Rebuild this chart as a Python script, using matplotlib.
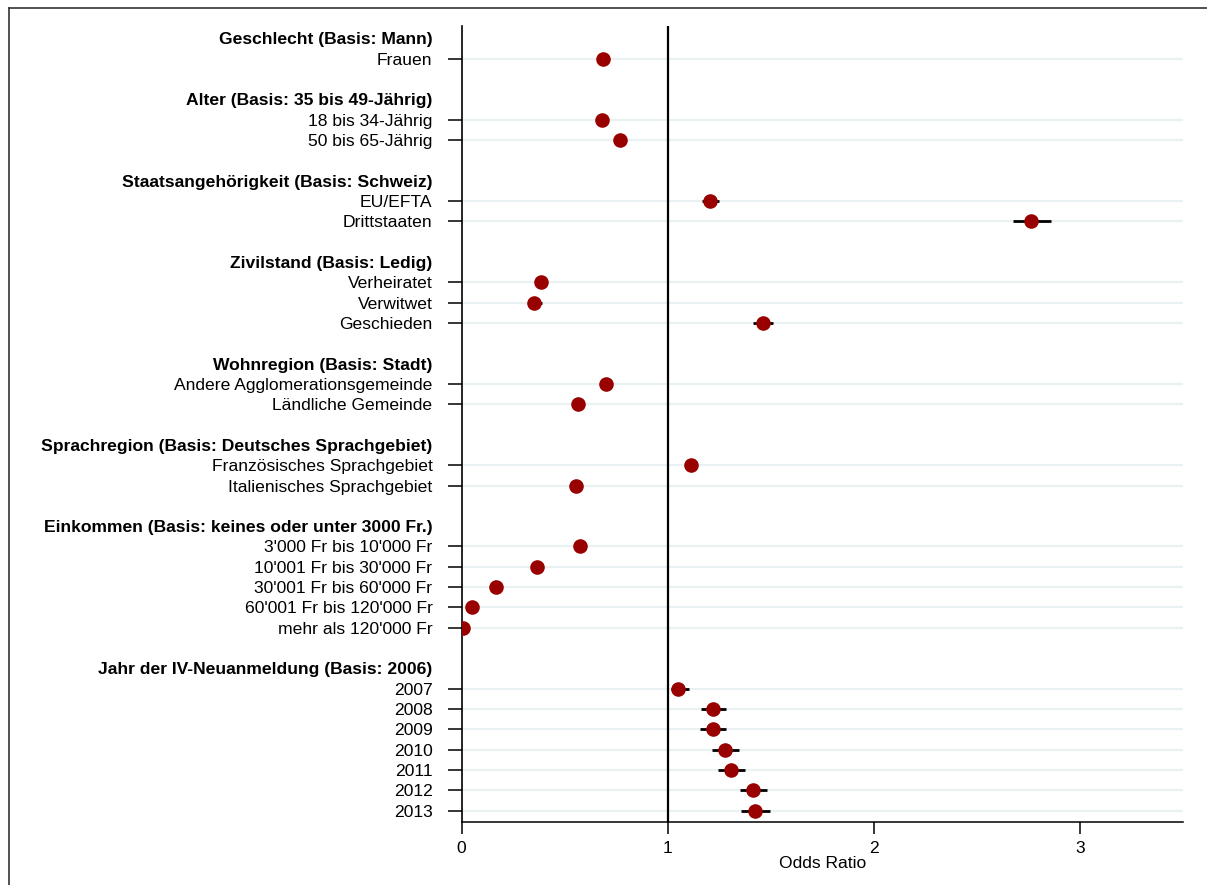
import numpy as np
import matplotlib.pyplot as plt
from matplotlib.lines import Line2D

plt.rcParams['font.family'] = ['Liberation Sans', 'DejaVu Sans']

#   ///////   data   ///////
group_headers = [
    "Geschlecht (Basis: Mann)",
    "Alter (Basis: 35 bis 49-Jährig)",
    "Staatsangehörigkeit (Basis: Schweiz)",
    "Zivilstand (Basis: Ledig)",
    "Wohnregion (Basis: Stadt)",
    "Sprachregion (Basis: Deutsches Sprachgebiet)",
    "Einkommen (Basis: keines oder unter 3000 Fr.)",
    "Jahr der IV-Neuanmeldung (Basis: 2006)",
]
group_items = [
    ["Frauen"],
    ["18 bis 34-Jährig", "50 bis 65-Jährig"],
    ["EU/EFTA", "Drittstaaten"],
    ["Verheiratet", "Verwitwet", "Geschieden"],
    ["Andere Agglomerationsgemeinde", "Ländliche Gemeinde"],
    ["Französisches Sprachgebiet", "Italienisches Sprachgebiet"],
    ["3'000 Fr bis 10'000 Fr", "10'001 Fr bis 30'000 Fr", "30'001 Fr bis 60'000 Fr",
     "60'001 Fr bis 120'000 Fr", "mehr als 120'000 Fr"],
    ["2007", "2008", "2009", "2010", "2011", "2012", "2013"],
]
odds    = [0.685, 0.681, 0.768, 1.205, 2.764, 0.387, 0.353, 1.460, 0.700, 0.565,
           1.115, 0.557, 0.574, 0.365, 0.165, 0.048, 0.008,
           1.048, 1.221, 1.218, 1.278, 1.308, 1.415, 1.424]
ci_low  = [0.665, 0.660, 0.748, 1.167, 2.675, 0.372, 0.330, 1.412, 0.680, 0.548,
           1.095, 0.535, 0.556, 0.350, 0.155, 0.040, 0.000,
           1.016, 1.162, 1.158, 1.215, 1.244, 1.349, 1.355]
ci_high = [0.705, 0.702, 0.788, 1.247, 2.860, 0.402, 0.390, 1.512, 0.720, 0.582,
           1.135, 0.579, 0.592, 0.380, 0.175, 0.056, 0.020,
           1.105, 1.283, 1.283, 1.344, 1.375, 1.484, 1.494]
#   ///////     ///////

#   ///////   rows   ///////
row_labels, row_is_header, data_rows = [], [], []
pos = 0
for g, (head, items) in enumerate(zip(group_headers, group_items)):
    row_labels.append(head); row_is_header.append(True); pos += 1
    for it in items:
        row_labels.append(it); row_is_header.append(False); data_rows.append(pos); pos += 1
    if g < len(group_headers) - 1:
        row_labels.append(""); row_is_header.append(True); pos += 1
data_rows = np.array(data_rows)
odds = np.array(odds); ci_low = np.array(ci_low); ci_high = np.array(ci_high)
#   ///////     ///////

#   ///////   plot   ///////
fs = 12.6
fig = plt.figure(figsize=(12.07, 8.85), dpi=100)
ax = fig.add_axes([0.3825, 0.0712, 0.980 - 0.3825, 0.9706 - 0.0712])

for y in data_rows:
    ax.axhline(y, color='#eaf1f3', lw=1.6, zorder=0)
ax.axvline(1, color='black', lw=1.6, zorder=1)
ax.hlines(data_rows, ci_low, ci_high, color='black', lw=2.0, zorder=2)
ax.plot(odds, data_rows, 'o', color='#990000', ms=10.5, mec='none', zorder=3)

ax.set_xlim(0, 3.5)
ax.set_ylim(38.55, -0.6)
ax.set_xticks([0, 1, 2, 3])
ax.set_yticks(np.arange(len(row_labels)))
ax.set_yticklabels(row_labels, fontsize=fs)
for tick, head in zip(ax.yaxis.get_major_ticks(), row_is_header):
    if head:
        tick.tick1line.set_visible(False)
        tick.label1.set_fontweight('bold')
ax.tick_params(axis='y', length=10, width=1.1, pad=11)
ax.tick_params(axis='x', length=8.5, width=1.1, pad=5, labelsize=fs)
ax.set_xlabel("Odds Ratio", fontsize=fs, labelpad=0)

ax.spines['top'].set_visible(False)
ax.spines['right'].set_visible(False)
ax.spines['left'].set_linewidth(1.2)
ax.spines['bottom'].set_linewidth(1.1)

# outer frame (top and left)
fig.add_artist(Line2D([9/1207, 1], [1 - 8/885, 1 - 8/885], color='#333333', lw=1.2,
                      transform=fig.transFigure))
fig.add_artist(Line2D([9/1207, 9/1207], [0, 1 - 8/885], color='#333333', lw=1.2,
                      transform=fig.transFigure))

fig.savefig('out.png', dpi=100)
#   ///////     ///////
